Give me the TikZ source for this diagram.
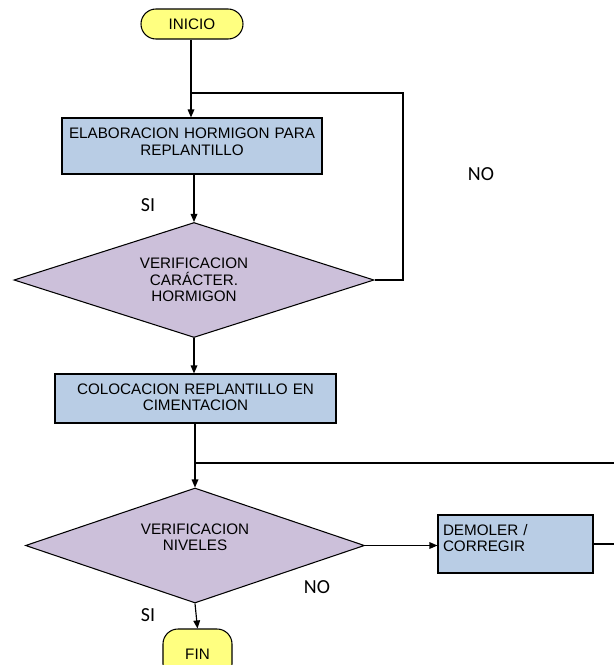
\documentclass[tikz,border=0pt]{standalone}
\usepackage{fontspec}
\setmainfont{Liberation Sans}
\newfontfamily\lblfont{Carlito}
\usepackage{tikz}
\usetikzlibrary{shapes.geometric,arrows.meta}
\definecolor{termyellow}{RGB}{255,255,128}
\definecolor{procblue}{RGB}{185,205,229}
\definecolor{declilac}{RGB}{204,192,218}

\begin{document}
\begin{tikzpicture}[
  x=0.03cm, y=-0.03cm,
  font=\fontsize{13pt}{14.1pt}\selectfont,
  term/.style={rectangle, draw, line width=0.9pt, fill=termyellow,
               rounded corners=0.45cm, minimum height=0.9cm, inner sep=0pt},
  proc/.style={rectangle, draw, line width=1pt, fill=procblue, align=center,
               inner xsep=0.1cm, inner ysep=0pt},
  dec/.style={diamond, draw, line width=0.9pt, fill=declilac, aspect=3,
              inner sep=0pt, align=center},
  lbl/.style={font=\lblfont\fontsize{17pt}{18pt}\selectfont},
  flow/.style={-{Triangle[length=2.4mm,width=2mm]}, line width=1pt},
  back/.style={line width=1pt},
]
\clip (0,0) rectangle (614,665);

\node[term, minimum width=3.06cm] (IN) at (192,24) {INICIO};
\node[proc, text width=7.6cm, minimum height=1.68cm, text depth=0.75cm] (EH) at (192,146)
  {ELABORACION HORMIGON PARA\\REPLANTILLO};
\node[dec, minimum width=10.8cm, minimum height=3.45cm] (VC) at (194,280)
  {VERIFICACION\\CARÁCTER.\\HORMIGON};
\node[proc, text width=8.23cm, minimum height=1.47cm, text depth=0.58cm] (CR) at (195.5,398.5)
  {COLOCACION REPLANTILLO EN\\CIMENTACION};
\node[dec, minimum width=10.17cm, minimum height=3.45cm, text depth=0.5cm] (VN) at (195,545.5)
  {VERIFICACION\\NIVELES};
\node[proc, align=left, inner xsep=0.15cm, text width=4.35cm, minimum height=1.74cm,
      text depth=0.85cm] (DC) at (515.5,544) {DEMOLER /\\CORREGIR};
\node[term, minimum width=2.07cm, minimum height=1.5cm] (FI) at (197.5,654) {FIN};

\node[lbl] (SI1) at (148,205) {SI};
\node[lbl] (NO1) at (481,174) {NO};
\node[lbl] (NO2) at (317,587) {NO};
\node[lbl] (SI2) at (148,615) {SI};

\coordinate (J1) at (191,93);
\coordinate (R1) at (403,93);
\coordinate (J2) at (195,463);
\coordinate (R2) at (620,463);

\draw[flow] (J1 |- IN.south) -- (J1 |- EH.north);
\draw[back] (VC.east) -| (R1) -- (J1);
\draw[flow] (VC.north |- EH.south) -- (VC.north);
\draw[flow] (VC.south) -- (VC.south |- CR.north);
\draw[flow] (J2 |- CR.south) -- (VN.north);
\draw[back] (DC.east) -- (DC.east -| R2) -- (R2) -- (J2);
\draw[flow] (VN.east) -- (DC.west |- VN.east);
\draw[flow] (VN.south) -- (FI.north);

\end{tikzpicture}
\end{document}
